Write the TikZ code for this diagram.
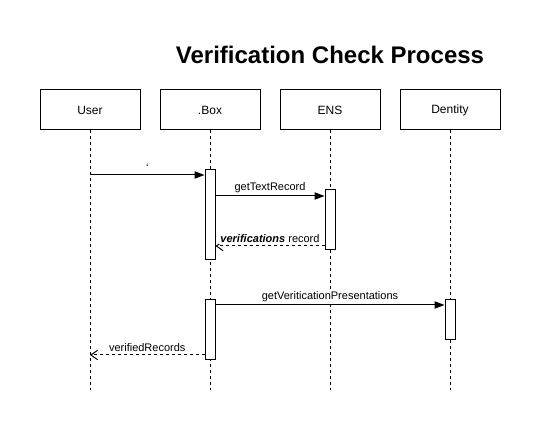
\documentclass[tikz,border=0pt]{standalone}
\usepackage{fontspec}
\setmainfont{Liberation Sans}
\usetikzlibrary{arrows.meta}
\begin{document}
\begin{tikzpicture}[x=0.75pt,y=0.75pt,yscale=-1,xscale=1,
  actor/.style={draw,line width=0.75pt,minimum width=75pt,minimum height=30pt,inner sep=0pt,font=\fontsize{9}{11}\selectfont},
  activation/.style={draw,fill=white,line width=0.75pt,minimum width=7.5pt,inner sep=0pt},
  lifeline/.style={line width=0.75pt,dash pattern=on 2.25pt off 2.25pt},
  call/.style={line width=0.75pt,-{Triangle[length=7.5pt,width=5.5pt]}},
  reply/.style={line width=0.75pt,dash pattern=on 2.25pt off 2.25pt,-{Straight Barb[length=5pt,width=7pt]}},
  msg/.style={above,fill=white,font=\fontsize{8.25}{10}\selectfont,inner sep=1pt,outer sep=1.5pt}]
\useasboundingbox (0,0) rectangle (551,431);

%Title
\node[font=\fontsize{18}{22}\selectfont\bfseries] (title) at (330,55) {Verification Check Process};

%Shape: Actors
\node[actor] (user) at (90,110) {User};
\node[actor] (box) at (210,110) {.Box};
\node[actor] (ens) at (330,110) {ENS};
\node[actor] (dentity) at (450,110) {Dentity};

%Lifelines
\coordinate (bottom) at (0,390);
\foreach \a in {user,box,ens,dentity}
  \draw[lifeline] (\a.south) -- (\a.south |- bottom);

%Shape: Activations
\node[activation,minimum height=67.5pt] (act1) at (210,215) {};
\node[activation,minimum height=45pt] (act2) at (330,220) {};
\node[activation,minimum height=45pt] (act3) at (210,330) {};
\node[activation,minimum height=30pt] (act4) at (450,320) {};

%Messages
\coordinate (m1) at (0,175);
\coordinate (m2) at (0,196);
\coordinate (m3) at (0,246);
\coordinate (m4) at (0,305);
\coordinate (m5) at (0,355);
\draw[call] (user.south |- m1) -- (act1.west |- m1) node[msg,midway] {\symbol{96}};
\draw[call] (act1.east |- m2) -- (act2.west |- m2) node[msg,midway] {getTextRecord};
\draw[reply] (act2.west |- m3) -- (act1.east |- m3) node[msg,midway] {\textbf{\textit{verifications}} record};
\draw[call] (act3.east |- m4) -- (act4.west |- m4) node[msg,midway] {getVeriticationPresentations};
\draw[reply] (act3.west |- m5) -- (user.south |- m5) node[msg,midway] {verifiedRecords};

\end{tikzpicture}
\end{document}
